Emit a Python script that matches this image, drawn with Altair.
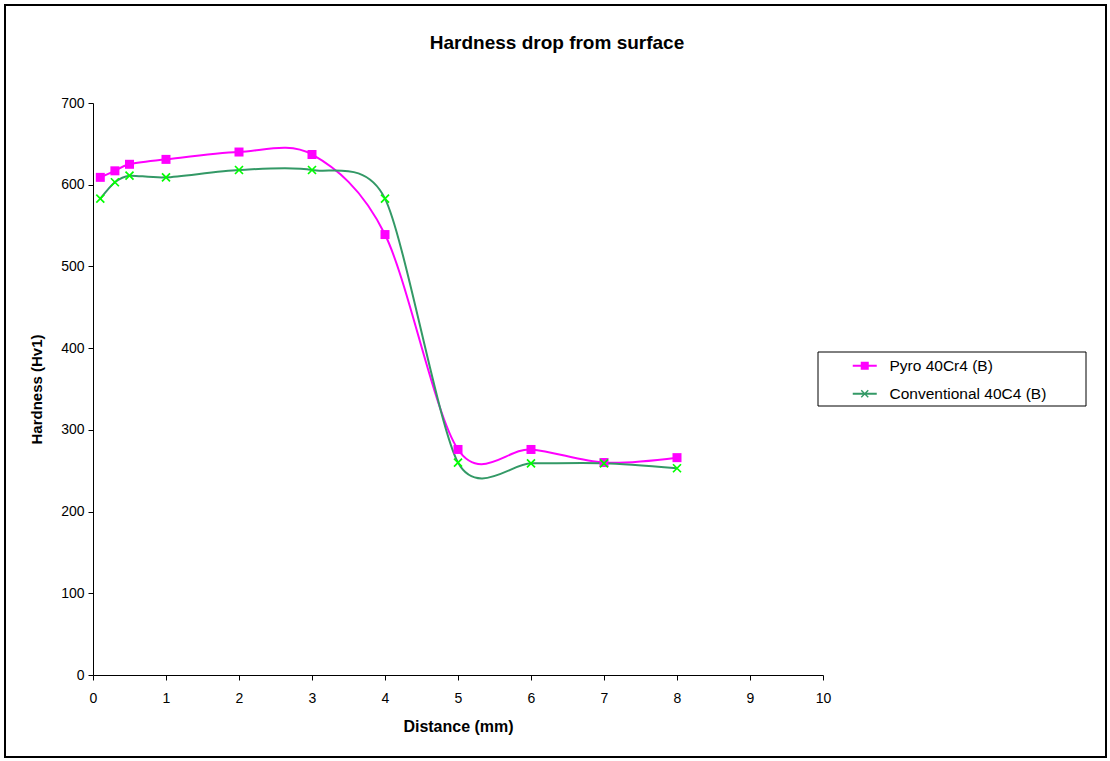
import altair as alt
import pandas as pd

# ---- data ----
distance = [0.1, 0.3, 0.5, 1, 2, 3, 4, 5, 6, 7, 8]
pyro = [609, 617, 625, 631, 640, 637, 539, 276, 276, 260, 266]
conventional = [583, 603, 611, 609, 618, 618, 583, 260, 259, 259, 253]
series_names = ["Pyro 40Cr4 (B)", "Conventional 40C4 (B)"]
line_colors = ["#FF00FF", "#339966"]
marker_colors = ["#FF00FF", "#00FF00"]
x_ticks = list(range(0, 11))
y_ticks = list(range(0, 701, 100))

rows = []
for name, vals in zip(series_names, [pyro, conventional]):
    for d, v in zip(distance, vals):
        rows.append({"distance": d, "hardness": v, "series": name})
df = pd.DataFrame(rows)

FONT = "Liberation Sans"
X_PATH = "M-1,-1L1,1M-1,1L1,-1"
LEG_P = "M-2.4,-0.2H2.4V0.2H-2.4Z M-0.8,-0.8H0.8V0.8H-0.8Z"
LEG_C = ("M-2.4,-0.2H2.4V0.2H-2.4Z M-0.8,-0.6L-0.6,-0.8L0.8,0.6L0.6,0.8Z "
         "M0.6,-0.8L0.8,-0.6L-0.6,0.8L-0.8,0.6Z")

x_enc = alt.X(
    "distance:Q",
    scale=alt.Scale(domain=[0, 10], nice=False, zero=False),
    axis=alt.Axis(values=x_ticks, title="Distance (mm)", grid=False,
                  labelFont=FONT, labelFontSize=14, labelColor="black",
                  labelFlush=False,
                  tickColor="black", domainColor="black", tickSize=5,
                  labelPadding=11, titleFont=FONT, titleFontSize=16,
                  titleFontWeight="bold", titleColor="black", titlePadding=13),
)
y_enc = alt.Y(
    "hardness:Q",
    scale=alt.Scale(domain=[0, 700], nice=False),
    axis=alt.Axis(values=y_ticks, title="Hardness (Hv1)", grid=False,
                  labelFont=FONT, labelFontSize=14, labelColor="black",
                  labelFlush=False,
                  tickColor="black", domainColor="black", tickSize=5,
                  labelPadding=4, titleFont=FONT, titleFontSize=15,
                  titleFontWeight="bold", titleColor="black", titlePadding=16),
)

base = alt.Chart(df)
frame_data = alt.Data(values=[{"k": 1}])

# outer chart frame and legend box (decoration)
border = alt.Chart(frame_data).mark_rect(
    fill="transparent", stroke="black", strokeWidth=2
).encode(x=alt.value(-88), x2=alt.value(1013), y=alt.value(-98), y2=alt.value(654))
legend_box = alt.Chart(frame_data).mark_rect(
    fill="white", stroke="black", strokeWidth=1
).encode(x=alt.value(725), x2=alt.value(993), y=alt.value(249), y2=alt.value(303))

line_p = base.transform_filter(alt.datum.series == series_names[0]).mark_line(
    interpolate="cardinal", tension=0.05, color=line_colors[0], strokeWidth=2
).encode(x=x_enc, y=y_enc)
line_c = base.transform_filter(alt.datum.series == series_names[1]).mark_line(
    interpolate="cardinal", tension=0.2, color=line_colors[1], strokeWidth=2
).encode(x=x_enc, y=y_enc)

pts_p = base.transform_filter(alt.datum.series == series_names[0]).mark_point(
    shape="square", filled=True, color=marker_colors[0], size=81, opacity=1
).encode(x=x_enc, y=y_enc)
pts_c = base.transform_filter(alt.datum.series == series_names[1]).mark_point(
    shape=X_PATH, filled=False, color=marker_colors[1], size=64, strokeWidth=1.7, opacity=1
).encode(x=x_enc, y=y_enc)

leg = alt.Legend(
    title=None, orient="none", legendX=725, legendY=249, padding=6,
    labelFont=FONT, labelFontSize=15.5,
    labelColor="black", symbolSize=100, symbolOffset=33, labelOffset=17,
    rowPadding=11, symbolStrokeWidth=0, symbolOpacity=1,
)
legend_layer = base.transform_filter("false").mark_point(
    filled=True, opacity=1, size=100
).encode(
    x=x_enc, y=y_enc,
    color=alt.Color("series:N", scale=alt.Scale(domain=series_names, range=line_colors), legend=leg),
    shape=alt.Shape("series:N", scale=alt.Scale(domain=series_names, range=[LEG_P, LEG_C]), legend=leg),
)

chart = alt.layer(border, legend_box, line_p, line_c, pts_p, pts_c, legend_layer).properties(
    width=730,
    height=572,
    padding={"left": 4, "top": 4, "right": 3, "bottom": 3},
    background="white",
    title=alt.TitleParams(
        "Hardness drop from surface", font=FONT, fontSize=19, fontWeight="bold",
        color="black", anchor="middle", dx=99, offset=-64, baseline="alphabetic",
    ),
).configure_view(strokeWidth=0)

chart.save("out.html", embed_options={"renderer": "svg", "actions": False})
